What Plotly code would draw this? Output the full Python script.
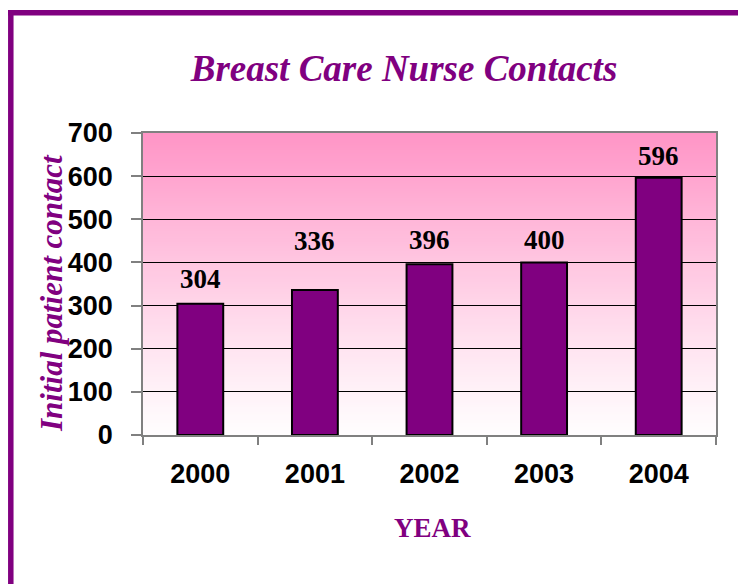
import plotly.graph_objects as go

years = ["2000", "2001", "2002", "2003", "2004"]
contacts = [304, 336, 396, 400, 596]
y_ticks = [0, 100, 200, 300, 400, 500, 600, 700]

PURPLE = "#800080"
SERIF = "Times New Roman, Liberation Serif, serif"
SANS = "Arial, Liberation Sans, sans-serif"
# pixel offsets of the value labels above each bar (as placed in the original)
LABEL_SHIFT = [8, 32, 7, 5, 5]

fig = go.Figure()
fig.add_trace(go.Bar(
    x=years, y=contacts,
    marker=dict(color=PURPLE, line=dict(color="black", width=2)),
    width=0.4,
))

# value labels above the bars (x given as category index)
label_anns = [
    dict(x=i, y=v, xref="x", yref="y", text=str(v), showarrow=False,
         xanchor="center", yanchor="bottom", yshift=LABEL_SHIFT[i],
         font=dict(family=SERIF, size=27, color="black", weight="bold"))
    for i, v in enumerate(contacts)
]

# vertical gradient background (pink top -> white bottom)
shapes = []
n = 120
top = (255, 148, 198)
bot = (255, 253, 254)
for i in range(n):
    t0 = i / n
    t1 = (i + 1) / n
    tm = (t0 + t1) / 2
    f = tm ** 1.15
    c = tuple(round(bot[k] + (top[k] - bot[k]) * f) for k in range(3))
    shapes.append(dict(type="rect", xref="x domain", yref="y domain",
                       x0=0, x1=1, y0=t0, y1=min(1, t1 + 0.004),
                       fillcolor="rgb(%d,%d,%d)" % c, line=dict(width=0),
                       layer="below"))

# outer purple frame: only the top and left edges are visible in the original
W, H = 573, 302
def px(x): return (x - 143) / W
def py(y): return (435 - y) / H
FRAME = dict(color=PURPLE, width=5.5)
shapes.append(dict(type="line", xref="paper", yref="paper",
                   x0=px(8), x1=px(800), y0=py(12.8), y1=py(12.8),
                   line=FRAME, layer="above"))
shapes.append(dict(type="line", xref="paper", yref="paper",
                   x0=px(10.8), x1=px(10.8), y0=py(10), y1=py(640),
                   line=FRAME, layer="above"))

fig.update_layout(
    width=746, height=584,
    margin=dict(l=135, r=38, t=125, b=157),
    paper_bgcolor="white", plot_bgcolor="white",
    showlegend=False,
    shapes=shapes,
    bargap=0.6,
    title=dict(text="Breast Care Nurse Contacts",
               font=dict(family=SERIF, size=37, color=PURPLE, weight="bold", style="italic"),
               x=px(404), xref="paper", xanchor="center",
               y=1 - 60 / 584, yref="container", yanchor="middle"),
    xaxis=dict(
        type="category",
        categoryorder="array", categoryarray=years,
        range=[-0.5, len(years) - 0.5],
        showline=True, linecolor="#808080", linewidth=1.5, mirror=True,
        ticks="outside", tickson="boundaries", ticklen=8, tickcolor="#808080", tickwidth=1.5,
        tickfont=dict(family=SANS, size=27, color="black", weight="bold"),
        ticklabelstandoff=14,
        showgrid=False,
    ),
    yaxis=dict(
        range=[0, 700], tickvals=y_ticks,
        showline=True, linecolor="#808080", linewidth=1.5, mirror=True,
        ticks="outside", ticklen=10, tickcolor="#808080", tickwidth=1.5,
        tickfont=dict(family=SANS, size=27, color="black", weight="bold"),
        ticklabelstandoff=13,
        showgrid=True, gridcolor="black", gridwidth=1,
        zeroline=False,
    ),
    annotations=label_anns + [
        dict(text="Initial patient contact", xref="paper", yref="paper",
             x=px(51), y=py(293), textangle=-90, showarrow=False,
             xanchor="center", yanchor="middle",
             font=dict(family=SERIF, size=31, color=PURPLE, weight="bold", style="italic")),
        dict(text="YEAR", xref="paper", yref="paper",
             x=px(432), y=py(528), showarrow=False,
             xanchor="center", yanchor="middle",
             font=dict(family=SERIF, size=27, color=PURPLE, weight="bold")),
    ],
)

fig.write_html("out.html")
